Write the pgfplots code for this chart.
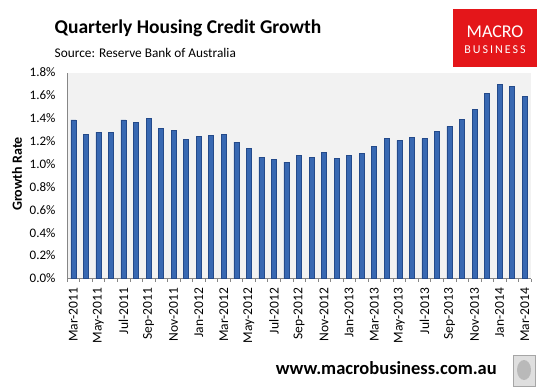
\documentclass[border=0pt]{standalone}
\usepackage{fontspec}
\setmainfont{Carlito}
\usepackage{pgfplots}
\pgfplotsset{compat=1.18}
\definecolor{barblue}{RGB}{56,104,178}
\definecolor{bardark}{RGB}{36,74,138}
\definecolor{plotbg}{RGB}{242,242,242}
\definecolor{mbred}{RGB}{228,22,26}
\definecolor{axgray}{RGB}{134,134,134}
\begin{document}
\begin{tikzpicture}
% titles
\node[anchor=base west,inner sep=0,font=\fontsize{19.5bp}{22bp}\selectfont\bfseries] at (54.5bp,-33bp) {Quarterly Housing Credit Growth};
\node[anchor=base west,inner sep=0,font=\fontsize{13.3bp}{15bp}\selectfont] at (54.5bp,-57bp) {Source: Reserve Bank of Australia};
% logo
\fill[mbred] (453bp,-9bp) rectangle (537bp,-67bp);
\node[text=white,inner sep=0,font=\fontsize{18bp}{20bp}\selectfont] at (495bp,-31.5bp) {MACRO};
\node[text=white,inner sep=0,font=\fontsize{12bp}{14bp}\selectfont] at (495bp,-49.5bp) {B\,U\,S\,I\,N\,E\,S\,S};
% y label
\node[rotate=90,inner sep=0,font=\fontsize{14bp}{16bp}\selectfont\bfseries] at (17bp,-174bp) {Growth Rate};
\begin{axis}[
  at={(67bp,-278.5bp)}, anchor=south west,
  scale only axis, width=464bp, height=206bp,
  xmin=-0.5, xmax=36.5, ymin=0, ymax=1.8,
  axis background/.style={fill=plotbg},
  axis lines*=left,
  axis line style={axgray},
  every tick/.style={axgray},
  ybar, bar width=5bp, bar shift=0pt,
  ytick={0,0.2,...,1.8},
  yticklabel={\pgfmathprintnumber[fixed,fixed zerofill,precision=1]{\tick}\%},
  /pgf/number format/assume math mode=true,
  yticklabel style={font=\fontsize{13bp}{15bp}\selectfont, xshift=-8bp},
  major tick length=0pt,
  xtick={0,2,...,36},
  xticklabels={Mar-2011,May-2011,Jul-2011,Sep-2011,Nov-2011,Jan-2012,Mar-2012,May-2012,Jul-2012,Sep-2012,Nov-2012,Jan-2013,Mar-2013,May-2013,Jul-2013,Sep-2013,Nov-2013,Jan-2014,Mar-2014},
  xticklabel style={rotate=90, anchor=east, font=\fontsize{13.5bp}{15bp}\selectfont, xshift=-6bp},
  minor xtick={-0.5,0.5,...,36.5},
  minor tick length=3bp,
  tick align=outside,
  clip=false,
]
\addplot[draw=bardark, line width=0.5bp, fill=barblue] coordinates {
(0,1.385) (1,1.262) (2,1.278) (3,1.278) (4,1.385) (5,1.366) (6,1.398)
(7,1.313) (8,1.296) (9,1.218) (10,1.244) (11,1.249) (12,1.262) (13,1.191)
(14,1.136) (15,1.060) (16,1.042) (17,1.016) (18,1.075) (19,1.060) (20,1.104)
(21,1.048) (22,1.075) (23,1.092) (24,1.154) (25,1.223) (26,1.206) (27,1.232)
(28,1.223) (29,1.284) (30,1.329) (31,1.390) (32,1.477) (33,1.617) (34,1.695)
(35,1.678) (36,1.593)
};
\end{axis}
% footer
\node[anchor=base east,inner sep=0,font=\fontsize{18.5bp}{22bp}\selectfont\bfseries] at (497bp,-374bp) {www.macrobusiness.com.au};
\draw[gray!70,fill=gray!25,line width=1bp] (513bp,-355bp) rectangle (535bp,-386bp);
\fill[gray!55] (524bp,-370bp) ellipse (7bp and 10bp);
\pgfresetboundingbox
\path[use as bounding box] (0bp,0bp) rectangle (548bp,-389bp);
\end{tikzpicture}
\end{document}
